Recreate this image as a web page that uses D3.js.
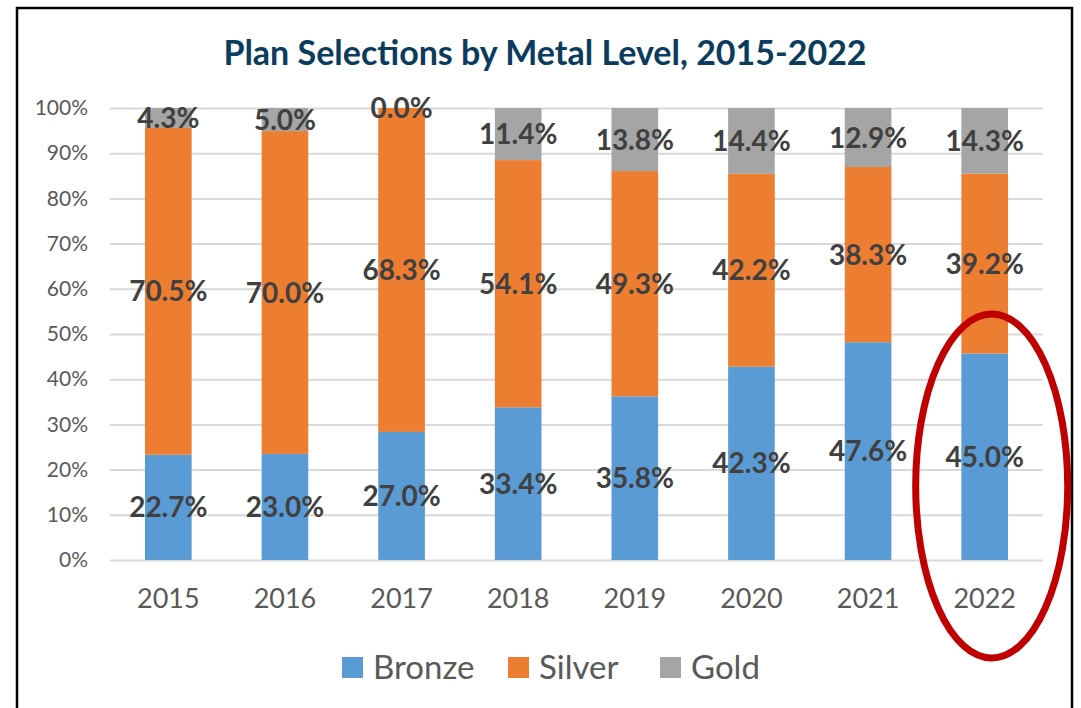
<!DOCTYPE html>
<html>
<head>
<meta charset="utf-8">
<script src="https://cdn.jsdelivr.net/npm/d3@7"></script>
<style>
  html, body { margin: 0; padding: 0; background: #fff; }
  svg { display: block; }
  text { font-family: Lato, "Open Sans", sans-serif; }
</style>
</head>
<body>
<svg id="chart" width="1081" height="708"></svg>
<script>
// Plan selections by metal level (percent of plan selections per year)
const years  = ["2015", "2016", "2017", "2018", "2019", "2020", "2021", "2022"];
const bronze = [22.7, 23.0, 27.0, 33.4, 35.8, 42.3, 47.6, 45.0];
const silver = [70.5, 70.0, 68.3, 54.1, 49.3, 42.2, 38.3, 39.2];
const gold   = [4.3, 5.0, 0.0, 11.4, 13.8, 14.4, 12.9, 14.3];
const seriesNames = ["Bronze", "Silver", "Gold"];
const yTicks = [0, 0.1, 0.2, 0.3, 0.4, 0.5, 0.6, 0.7, 0.8, 0.9, 1.0];
const highlightYear = "2022";

const colors = { Bronze: "#5B9BD5", Silver: "#ED7D31", Gold: "#A5A5A5" };

const rows = years.map((y, i) => ({ year: y, Bronze: bronze[i], Silver: silver[i], Gold: gold[i] }));

const svg = d3.select("#chart");
const plot = { left: 110, right: 1043, top: 108, bottom: 560 };

// Outer frame
svg.append("rect")
  .attr("x", 17).attr("y", 8)
  .attr("width", 1072 - 17).attr("height", 720)
  .attr("fill", "#fff").attr("stroke", "#000").attr("stroke-width", 2.5);

// Title
svg.append("text")
  .attr("x", 545).attr("y", 65)
  .attr("text-anchor", "middle")
  .attr("font-size", 34).attr("font-weight", 700)
  .attr("fill", "#0B3C5D")
  .text("Plan Selections by Metal Level, 2015-2022");

const x = d3.scaleBand()
  .domain(years)
  .range([plot.left, plot.right])
  .paddingInner(0.6)
  .paddingOuter(0.3);

const y = d3.scaleLinear().domain([0, 1]).range([plot.bottom, plot.top]);

// Gridlines and y tick labels
const yAxis = d3.axisLeft(y)
  .tickValues(yTicks)
  .tickFormat(d3.format(".0%"))
  .tickSize(-(plot.right - plot.left))
  .tickPadding(22);

const gy = svg.append("g")
  .attr("transform", `translate(${plot.left},0)`)
  .call(yAxis);
gy.select(".domain").remove();
gy.selectAll(".tick line").attr("stroke", "#D9D9D9").attr("stroke-width", 2);
gy.selectAll(".tick text")
  .attr("font-size", 21).attr("fill", "#595959")
  .attr("font-family", "Lato, 'Open Sans', sans-serif");

// Stacked bars, each year expanded to 100%
const stack = d3.stack().keys(seriesNames).offset(d3.stackOffsetExpand);
const layers = stack(rows);

const gBars = svg.append("g");
layers.forEach(layer => {
  gBars.selectAll(null)
    .data(layer)
    .join("rect")
    .attr("x", d => x(d.data.year))
    .attr("width", x.bandwidth())
    .attr("y", d => y(d[1]))
    .attr("height", d => y(d[0]) - y(d[1]))
    .attr("fill", colors[layer.key]);
});

// Value labels centred in each segment
const gLabels = svg.append("g");
layers.forEach(layer => {
  gLabels.selectAll(null)
    .data(layer)
    .join("text")
    .attr("x", d => x(d.data.year) + x.bandwidth() / 2)
    .attr("y", d => y((d[0] + d[1]) / 2))
    .attr("dy", "0.36em")
    .attr("text-anchor", "middle")
    .attr("font-size", 28).attr("font-weight", 700)
    .attr("fill", "#404040")
    .text(d => d.data[layer.key].toFixed(1) + "%");
});

// X axis labels
const xAxis = d3.axisBottom(x).tickSize(0).tickPadding(29);
const gx = svg.append("g")
  .attr("transform", `translate(0,${plot.bottom})`)
  .call(xAxis);
gx.select(".domain").remove();
gx.selectAll(".tick text")
  .attr("font-size", 27).attr("fill", "#595959")
  .attr("font-family", "Lato, 'Open Sans', sans-serif");

// Legend
const legendItems = [
  { name: "Bronze", x: 342 },
  { name: "Silver", x: 508 },
  { name: "Gold",   x: 660 }
];
const gLegend = svg.append("g");
legendItems.forEach(it => {
  gLegend.append("rect")
    .attr("x", it.x).attr("y", 657)
    .attr("width", 21).attr("height", 21)
    .attr("fill", colors[it.name]);
  gLegend.append("text")
    .attr("x", it.x + 31).attr("y", 679)
    .attr("font-size", 33).attr("fill", "#595959")
    .text(it.name);
});

// Highlight ring around the latest year
const hx = x(highlightYear) + x.bandwidth() / 2;
svg.append("ellipse")
  .attr("cx", hx + 7).attr("cy", 486)
  .attr("rx", 76).attr("ry", 172)
  .attr("fill", "none")
  .attr("stroke", "#C00000").attr("stroke-width", 7);
</script>
</body>
</html>
